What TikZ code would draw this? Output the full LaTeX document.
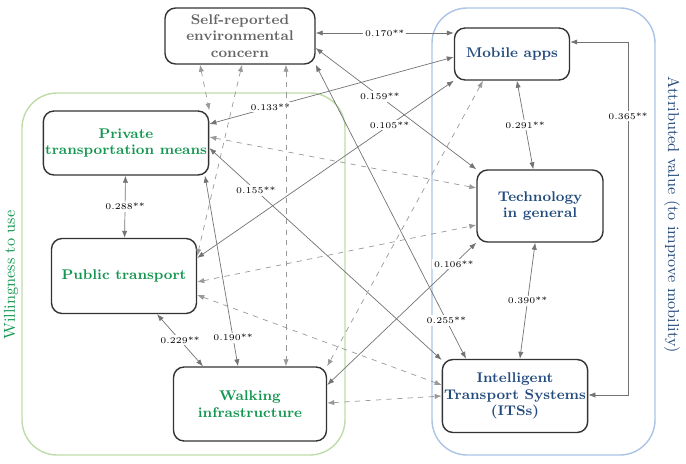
\documentclass[tikz,border=0pt]{standalone}
\usepackage{tikz}
\usetikzlibrary{arrows.meta}
\definecolor{usegreen}{RGB}{20,150,80}
\definecolor{valblue}{RGB}{35,75,125}
\definecolor{grpgreen}{RGB}{190,220,170}
\definecolor{grpblue}{RGB}{170,195,230}
\tikzset{
  box/.style={draw=black!80, rounded corners=6pt, thick, align=center, inner sep=1pt, font=\bfseries\footnotesize},
  lnk/.style={draw=black!55, {Latex[length=4pt,width=3pt]}-{Latex[length=4pt,width=3pt]}},
  dsh/.style={lnk, draw=black!40, dashed},
  coef/.style={fill=white, inner sep=1pt, font=\tiny}
}
\begin{document}
\begin{tikzpicture}[x=0.02cm, y=-0.02cm]
\useasboundingbox (0,0) rectangle (686,463);

%% Groups
\draw[grpgreen, thick, rounded corners=20pt] (22,93) rectangle (345,455);
\draw[grpblue, thick, rounded corners=20pt] (432,8) rectangle (655,455);
\node[rotate=90, text=usegreen, font=\small] at (11,275) {Willingness to use};
\node[rotate=-90, text=valblue, font=\small] at (672,215) {Attributed value (to improve mobility)};

%% Nodes
\node[box, text=black!60, minimum width=3cm, minimum height=1.12cm] (concern) at (240,36) {Self-reported\\environmental\\concern};
\node[box, text=valblue, minimum width=2.3cm, minimum height=1.04cm] (mobile) at (512,54) {Mobile apps};
\node[box, text=usegreen, minimum width=2.96cm, minimum height=1.28cm] (private) at (126,143) {Private\\transportation means};
\node[box, text=valblue, minimum width=2.52cm, minimum height=1.44cm] (tech) at (540,206) {Technology\\in general};
\node[box, text=usegreen, minimum width=2.9cm, minimum height=1.5cm] (public) at (124,276) {Public transport};
\node[box, text=usegreen, minimum width=3.06cm, minimum height=1.48cm] (walk) at (250,404) {Walking\\infrastructure};
\node[box, text=valblue, minimum width=2.68cm, minimum height=1.46cm] (its) at (515,396) {Intelligent\\Transport Systems\\(ITSs)};

%% Solid links
\draw[lnk] (concern.east |- 0,33) -- node[coef] {0.170**} (mobile.west |- 0,33);
\draw[lnk] (mobile.west |- 0,57) -- node[coef, pos=0.75] {0.133**} (private.east |- 0,124);
\draw[lnk] (concern.east |- 0,48) -- node[coef, pos=0.4] {0.159**} (tech.north west);
\draw[lnk] (public.east |- 0,258) -- node[coef, pos=0.75] {0.105**} (mobile.south west);
\draw[lnk] (private.east |- 0,148) -- node[coef, pos=0.2] {0.155**} (its.west |- 0,360);
\draw[lnk] (concern.south east) -- node[coef, pos=0.87] {0.255**} (its.north -| 466,0);
\draw[lnk] (walk.east |- 0,385) -- node[coef, pos=0.85] {0.106**} (tech.south west);
\draw[lnk] (private.south -| 205,0) -- node[coef, pos=0.85] {0.190**} (walk.north -| 238,0);
\draw[lnk] (private) -- node[coef] {0.288**} (public);
\draw[lnk] (public.south -| 157,0) -- node[coef] {0.229**} (walk.north -| 203,0);
\draw[lnk] (mobile) -- node[coef] {0.291**} (tech);
\draw[lnk] (tech) -- node[coef] {0.390**} (its);
\draw[lnk] (mobile.east |- 0,42) -- (628,42) -- node[coef, pos=0.21] {0.365**} (628,395) -- (its.east |- 0,395);

%% Dashed links
\draw[dsh] (concern.south -| 200,0) -- (private.north east);
\draw[dsh] (concern.south -| 242,0) -- (public.east |- 0,256);
\draw[dsh] (concern.south -| 286,0) -- (walk.north -| 286,0);
\draw[dsh] (mobile.south -| 483,0) -- (walk.north east);
\draw[dsh] (private.east |- 0,137) -- (tech.west |- 0,188);
\draw[dsh] (public.east |- 0,282) -- (tech.west |- 0,225);
\draw[dsh] (public.east |- 0,295) -- (its.west |- 0,385);
\draw[dsh] (walk.east |- 0,403) -- (its.west |- 0,396);
\end{tikzpicture}
\end{document}
